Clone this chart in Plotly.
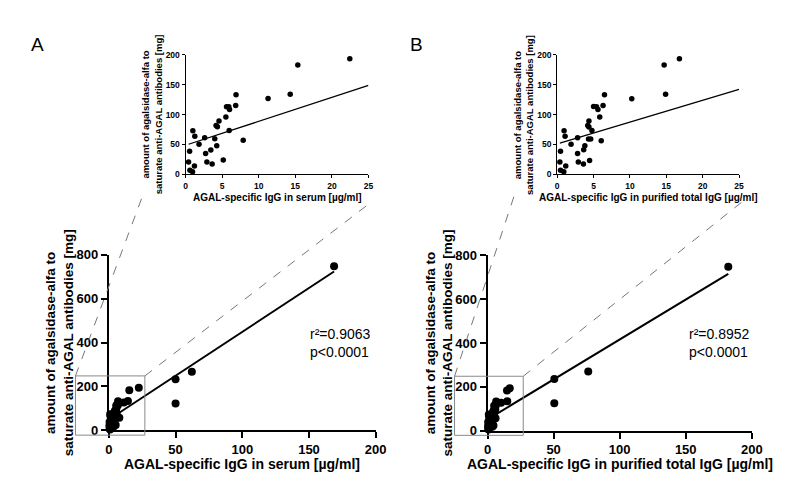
import plotly.graph_objects as go

W, H = 796, 495

# panel A: AGAL-specific IgG in serum vs amount of agalsidase-alfa
a_x = [22.45, 15.34, 14.3, 11.27, 6.89, 6.84, 7.87, 5.59, 5.9, 6.0, 5.5, 5.95, 4.56, 4.16,
       4.34, 4.25, 3.98, 3.44, 3.62, 5.14, 2.6, 2.73, 2.9, 1.83, 1.25, 0.98, 0.54, 0.4,
       0.58, 0.94, 1.2, 50.0, 50.0, 62.2, 168.8]
a_y = [193.5, 182.7, 134, 127, 133, 115, 56.8, 113, 113, 108.6, 96, 73.5, 89, 81.6,
       79.5, 47.6, 59.5, 40.5, 17.3, 23.8, 61, 35, 20.5, 50.3, 63.8, 73, 38.4, 20.5,
       7, 4.3, 14, 233, 122, 267, 748]
a_fit = (4.0, 48.7)        # slope, intercept
a_stats = "r²=0.9063<br>p<0.0001"

# panel B: AGAL-specific IgG in purified total IgG
b_x = [16.8, 14.7, 14.9, 10.25, 6.5, 6.3, 6.05, 5.0, 5.4, 5.6, 5.85, 4.77, 4.36, 4.2,
       4.36, 4.6, 4.3, 4.45, 3.8, 3.64, 3.6, 2.8, 2.8, 2.9, 1.9, 1.08, 0.94, 0.45, 0.36,
       0.45, 0.9, 1.17, 50.5, 50.5, 76.2, 182.2]
b_y = [193.5, 182.7, 134, 126.5, 133, 115, 56, 113.5, 113, 108.6, 96, 73.5, 89, 81.6,
       79, 59, 59, 23, 48, 41, 17.3, 61, 35, 20.5, 50.3, 63.8, 73, 38.4, 20.5,
       7, 4.3, 14, 236, 124.7, 270, 748]
b_fit = (3.65, 51.0)
b_stats = "r²=0.8952<br>p<0.0001"

y_title = "amount of agalsidase-alfa to<br>saturate anti-AGAL antibodies [mg]"
a_xtitle = "AGAL-specific IgG in serum [µg/ml]"
b_xtitle = "AGAL-specific IgG in purified total IgG [µg/ml]"

main_xticks = [0, 50, 100, 150, 200]
main_yticks = [0, 200, 400, 600, 800]
inset_xticks = [0, 5, 10, 15, 20, 25]
inset_yticks = [0, 50, 100, 150, 200]
zoom_box = (-25, 27, -22, 248)   # x0, x1, y0, y1 in main-axis units

FONT = "Liberation Sans, Arial"


def px(x):
    return x / W


def py(y):
    return 1 - y / H


def dx(d):
    return d / W


def dy(d):
    return d / H


# axis domains (paper), from picture pixels
dom = {
    "A_main": ([px(98.7), px(370.7)], [py(428.3), py(247.3)]),
    "B_main": ([px(484.7), px(754)], [py(428.5), py(248)]),
    "A_ins": ([px(177), px(363.3)], [py(164.3), py(41)]),
    "B_ins": ([px(555.7), px(741)], [py(164.3), py(41)]),
}

fig = go.Figure()

panels = [
    ("A", a_x, a_y, a_fit, a_stats, a_xtitle, "x", "y", "x2", "y2", "A_main", "A_ins"),
    ("B", b_x, b_y, b_fit, b_stats, b_xtitle, "x3", "y3", "x4", "y4", "B_main", "B_ins"),
]

shapes = []
annotations = []

for lab, xs, ys, fit, stats, xtitle, mx, my, ix, iy, mdom, idom in panels:
    slope, icpt = fit
    fx = [min(xs), max(xs)]
    fy = [slope * v + icpt for v in fx]
    # main plot
    fig.add_trace(go.Scatter(x=fx, y=fy, mode="lines", line=dict(color="black", width=2),
                             xaxis=mx, yaxis=my, showlegend=False, hoverinfo="skip"))
    fig.add_trace(go.Scatter(x=xs, y=ys, mode="markers", marker=dict(color="black", size=8),
                             cliponaxis=False, xaxis=mx, yaxis=my, showlegend=False))
    # inset
    ins = [(x, y) for x, y in zip(xs, ys) if x <= 25 and y <= 200]
    fig.add_trace(go.Scatter(x=[min(xs), 25], y=[slope * min(xs) + icpt, slope * 25 + icpt],
                             mode="lines", line=dict(color="black", width=1.3),
                             xaxis=ix, yaxis=iy, showlegend=False, hoverinfo="skip"))
    fig.add_trace(go.Scatter(x=[p[0] for p in ins], y=[p[1] for p in ins], mode="markers",
                             marker=dict(color="black", size=5.5), cliponaxis=False,
                             xaxis=ix, yaxis=iy, showlegend=False))

    # zoom box in paper coords
    (dx0, dx1), (dy0, dy1) = dom[mdom]
    bx0 = dx0 + zoom_box[0] / 200 * (dx1 - dx0)
    bx1 = dx0 + zoom_box[1] / 200 * (dx1 - dx0)
    by0 = dy0 + zoom_box[2] / 800 * (dy1 - dy0)
    by1 = dy0 + zoom_box[3] / 800 * (dy1 - dy0)
    shapes.append(dict(type="rect", xref="paper", yref="paper", x0=bx0, x1=bx1, y0=by0, y1=by1,
                       line=dict(color="#8a8a8a", width=1), layer="above"))
    (ix0, ix1), (iy0, iy1) = dom[idom]
    shapes.append(dict(type="line", xref="paper", yref="paper", x0=bx0, y0=by1,
                       x1=ix0 - dx(44), y1=iy0 - dy(22.5),
                       line=dict(color="#777", width=1, dash="dash")))
    shapes.append(dict(type="line", xref="paper", yref="paper", x0=bx1, y0=by1,
                       x1=ix1 + dx(3), y1=iy0 - dy(28.5),
                       line=dict(color="#777", width=1, dash="dash")))

    # titles
    annotations += [
        dict(text=y_title, x=dx0 - dx(50), y=(dy0 + dy1) / 2, textangle=-90,
             font=dict(size=13.5, weight="bold")),
        dict(text=xtitle, x=(dx0 + dx1) / 2, y=py(463), font=dict(size=14, weight="bold")),
        dict(text=y_title, x=ix0 - dx(34.5), y=(iy0 + iy1) / 2, textangle=-90,
             font=dict(size=9.5, weight="bold")),
        dict(text=xtitle, x=(ix0 + ix1) / 2, y=py(188.5), font=dict(size=10, weight="bold")),
        dict(text=stats, x=dx0 + dx(203), y=py(338), xanchor="left", align="left",
             font=dict(size=14)),
        dict(text=lab, x=dx0 - dx(72.7), y=py(30), font=dict(size=19)),
    ]

for a in annotations:
    a.update(xref="paper", yref="paper", showarrow=False)
    a.setdefault("xanchor", "center")
    a.setdefault("yanchor", "middle")

main_ax = dict(showline=True, linecolor="black", linewidth=2, ticks="outside", ticklen=6,
               tickwidth=2, tickcolor="black", showgrid=False, zeroline=False,
               tickfont=dict(size=13, weight="bold", color="black"))
ins_ax = dict(showline=True, linecolor="black", linewidth=1.3, ticks="outside", ticklen=3,
              tickwidth=1.3, tickcolor="black", showgrid=False, zeroline=False,
              tickfont=dict(size=8.5, weight="bold", color="black"))

layout_axes = {}
for mdom, idom, n in [("A_main", "A_ins", 1), ("B_main", "B_ins", 3)]:
    sx = "" if n == 1 else str(n)
    layout_axes["xaxis" + sx] = dict(main_ax, domain=dom[mdom][0], range=[0, 200],
                                     tickvals=main_xticks, anchor="y" + sx)
    layout_axes["yaxis" + sx] = dict(main_ax, domain=dom[mdom][1], range=[0, 800],
                                     tickvals=main_yticks, anchor="x" + sx)
    s2 = str(n + 1)
    layout_axes["xaxis" + s2] = dict(ins_ax, domain=dom[idom][0], range=[0, 25],
                                     tickvals=inset_xticks, anchor="y" + s2)
    layout_axes["yaxis" + s2] = dict(ins_ax, domain=dom[idom][1], range=[0, 200],
                                     tickvals=inset_yticks, anchor="x" + s2)

fig.update_layout(
    width=W, height=H,
    margin=dict(l=0, r=0, t=0, b=0),
    paper_bgcolor="white", plot_bgcolor="white",
    font=dict(family=FONT, color="black"),
    shapes=shapes, annotations=annotations,
    **layout_axes,
)

fig.write_html("out.html")
